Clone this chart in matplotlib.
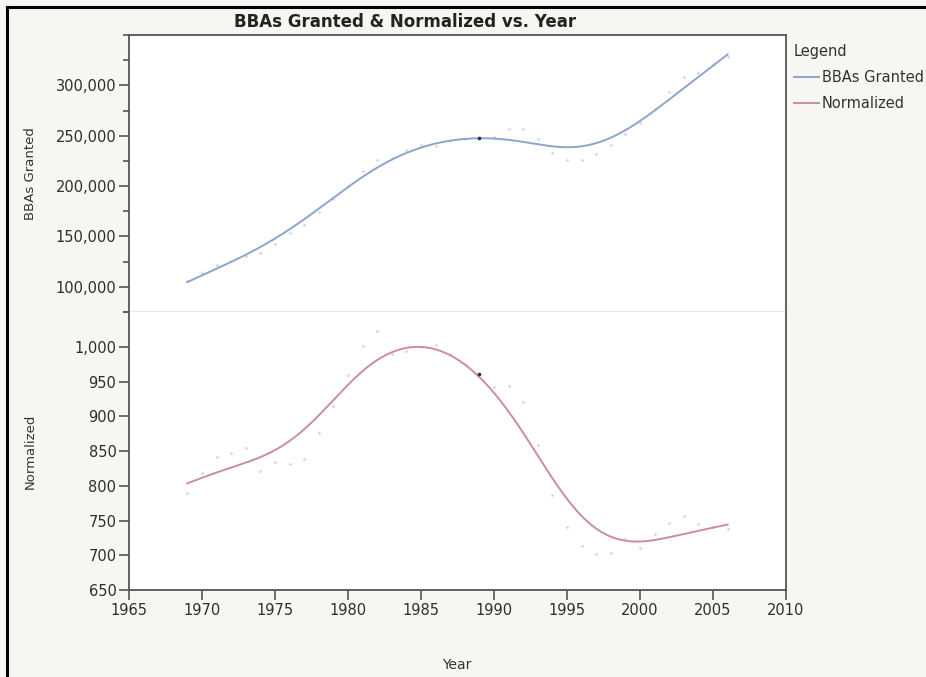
import numpy as np
import matplotlib.pyplot as plt
from matplotlib.ticker import FuncFormatter, MultipleLocator
from matplotlib.lines import Line2D

years = np.arange(1969, 2007)

bbas_granted = [106000, 114000, 122000, 126000, 131000, 134000, 143000, 153000,
                161000, 174000, 187000, 200000, 215000, 226000, 228000, 236000,
                241000, 240000, 245000, 247000, 248000, 249000, 257000, 257000,
                247000, 233000, 226000, 226000, 232000, 241000, 252000, 263000,
                277000, 293000, 308000, 312000, 320000, 328000]

normalized = [789, 819, 842, 847, 855, 821, 834, 832, 838, 876, 915, 960,
              1001, 1022, 990, 994, 1000, 1003, 990, 975, 961, 942, 944, 920,
              858, 786, 740, 714, 702, 703, 724, 711, 730, 747, 756, 745,
              741, 738]

selected_year = 1989

x_ticks = [1965, 1970, 1975, 1980, 1985, 1990, 1995, 2000, 2005, 2010]
top_ticks = [100000, 150000, 200000, 250000, 300000]
bottom_ticks = [650, 700, 750, 800, 850, 900, 950, 1000]

blue = '#8ca5ca'
pink = '#c98e9e'
bg = '#f6f6f2'


def smoother(x, y, lam, step=0.05):
    # penalised fit on a fine grid: data misfit + lam * integral of f''^2
    grid = np.arange(x[0], x[-1] + step / 2, step)
    n = len(grid)
    idx = np.rint((x - x[0]) / step).astype(int)
    W = np.zeros((n, n))
    rhs = np.zeros(n)
    W[idx, idx] = 1.0
    rhs[idx] = y
    D = np.zeros((n - 2, n))
    for i in range(n - 2):
        D[i, i:i + 3] = [1.0, -2.0, 1.0]
    D /= step ** 2
    A = W + lam * step * D.T @ D
    return grid, np.linalg.solve(A, rhs)


plt.rcParams['font.family'] = 'DejaVu Sans'
fig = plt.figure(figsize=(9.26, 6.77), dpi=100, facecolor=bg)

ax1 = fig.add_axes([0.1393, 0.5391, 0.7095, 0.4092])
ax2 = fig.add_axes([0.1393, 0.1285, 0.7095, 0.4106], sharex=ax1)

series = [(ax1, np.array(bbas_granted, float), blue, '#cdd8e8'),
          (ax2, np.array(normalized, float), pink, '#ebccd2')]
for ax, vals, col, dotcol in series:
    gx, gy = smoother(years.astype(float), vals, lam=40.0)
    ax.plot(gx, gy, color=col, lw=1.4, zorder=3)
    ax.scatter(years, vals, s=4, color=dotcol, lw=0, zorder=2)
    sel = years == selected_year
    ax.scatter(years[sel], vals[sel], s=7, color='#333333', lw=0, zorder=4)
    ax.set_facecolor('white')
    for side in ['left', 'right', 'top', 'bottom']:
        ax.spines[side].set_color('#555555')
        ax.spines[side].set_linewidth(1.3)
    ax.tick_params(axis='y', which='major', length=7, width=1.2, color='#555555',
                   labelsize=10.5, labelcolor='#2e2e2e', pad=2)
    ax.tick_params(axis='y', which='minor', length=4, width=1.2, color='#555555')

ax1.set_xlim(1965, 2010)
ax1.set_ylim(75000, 350000)
ax1.set_yticks(top_ticks)
ax1.yaxis.set_minor_locator(MultipleLocator(25000))
ax1.yaxis.set_major_formatter(FuncFormatter(lambda v, p: '{:,.0f}'.format(v)))
ax1.spines['bottom'].set_color('#e4e6ea')
ax1.tick_params(axis='x', which='both', bottom=False, labelbottom=False)

ax2.set_ylim(650, 1050)
ax2.set_yticks(bottom_ticks)
ax2.yaxis.set_minor_locator(MultipleLocator(50))
ax2.yaxis.set_major_formatter(FuncFormatter(lambda v, p: '{:,.0f}'.format(v)))
ax2.spines['top'].set_visible(False)
ax2.set_xticks(x_ticks)
ax2.tick_params(axis='x', which='major', length=7, width=1.2, color='#555555',
                labelsize=10.5, labelcolor='#2e2e2e', pad=2)

ax1.set_ylabel('BBAs Granted', fontsize=9.5, color='#333333')
ax2.set_ylabel('Normalized', fontsize=9.5, color='#333333')
ax1.yaxis.set_label_coords(-0.14, 0.5)
ax2.yaxis.set_label_coords(-0.14, 0.5)
fig.text(457 / 926, 1 - 665 / 677, 'Year', ha='center', va='center',
         fontsize=10, color='#333333')

fig.text(405 / 926, 1 - 22 / 677, 'BBAs Granted & Normalized vs. Year',
         ha='center', va='center', fontsize=12, fontweight='bold', color='#222222')

handles = [Line2D([], [], color=blue, lw=1.4), Line2D([], [], color=pink, lw=1.4)]
leg = fig.legend(handles, ['BBAs Granted', 'Normalized'], title='Legend',
                 loc='upper left', bbox_to_anchor=(788 / 926, 1 - 38 / 677),
                 frameon=False, fontsize=10.5, title_fontsize=10.5,
                 handlelength=1.7, handletextpad=0.2, labelspacing=0.75,
                 borderaxespad=0, alignment='left')
for t in leg.get_texts():
    t.set_color('#333333')
leg.get_title().set_color('#333333')

# black frame along the left and top edges
fig.add_artist(Line2D([7 / 926, 7 / 926], [0, 1 - 7 / 677], color='black', lw=2.2,
                      transform=fig.transFigure))
fig.add_artist(Line2D([7 / 926, 1], [1 - 7 / 677, 1 - 7 / 677], color='black', lw=2.2,
                      transform=fig.transFigure))

fig.savefig('out.png', dpi=100, facecolor=bg)
